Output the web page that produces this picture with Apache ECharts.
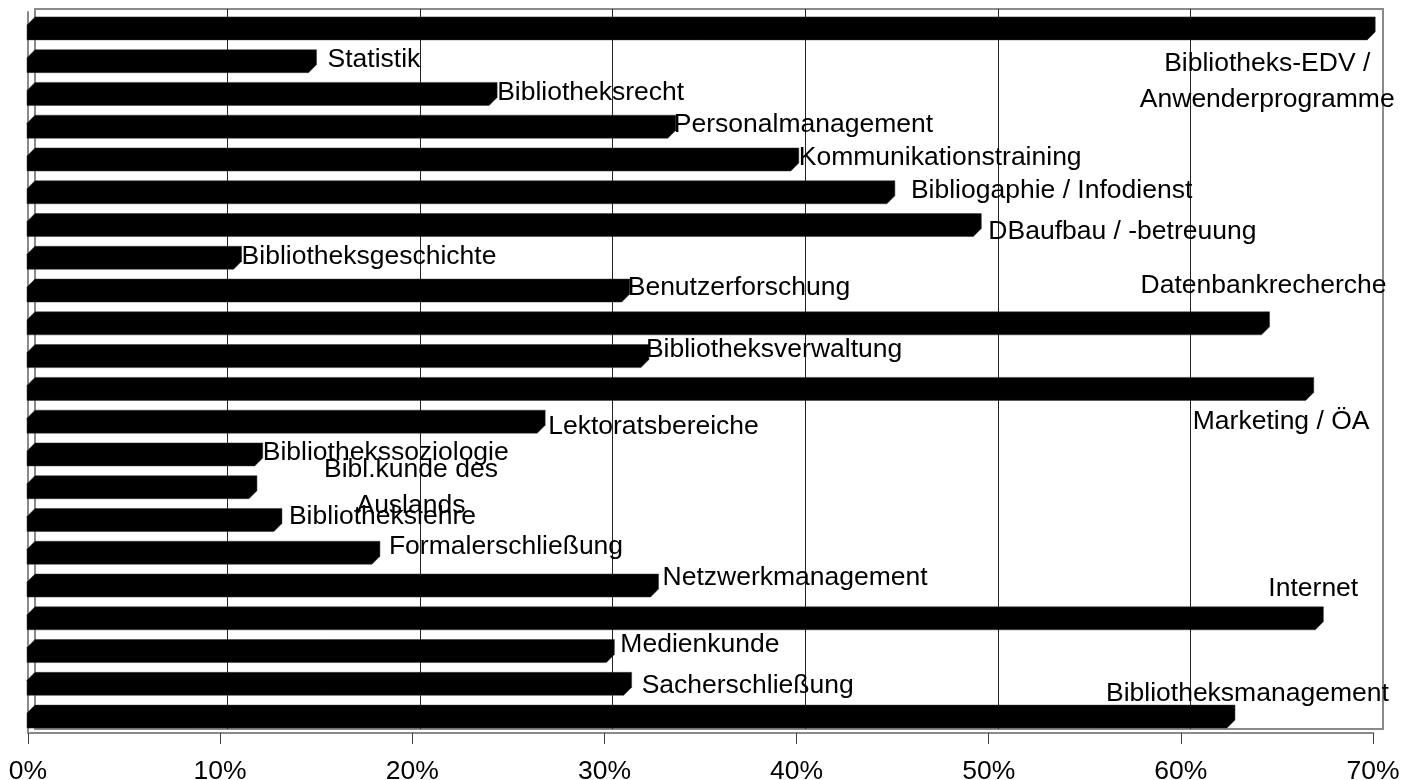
<!DOCTYPE html>
<html>
<head>
<meta charset="utf-8">
<script src="https://cdn.jsdelivr.net/npm/echarts@6/dist/echarts.min.js"></script>
<style>
html,body{margin:0;padding:0;background:#fff;}
#chart{width:1413px;height:780px;}
</style>
</head>
<body>
<div id="chart"></div>
<script>
// ---- data ----
const categories = [
  'Bibliotheks-EDV /\nAnwenderprogramme',
  'Statistik',
  'Bibliotheksrecht',
  'Personalmanagement',
  'Kommunikationstraining',
  'Bibliogaphie / Infodienst',
  'DBaufbau / -betreuung',
  'Bibliotheksgeschichte',
  'Benutzerforschung',
  'Datenbankrecherche',
  'Bibliotheksverwaltung',
  'Marketing / ÖA',
  'Lektoratsbereiche',
  'Bibliothekssoziologie',
  'Bibl.kunde des\nAuslands',
  'Bibliothekslehre',
  'Formalerschließung',
  'Netzwerkmanagement',
  'Internet',
  'Medienkunde',
  'Sacherschließung',
  'Bibliotheksmanagement'
];
const values = [69.7, 14.6, 24.0, 33.3, 39.7, 44.7, 49.2, 10.7, 30.9, 64.2, 31.9, 66.5,
                26.5, 11.8, 11.5, 12.8, 17.9, 32.4, 67.0, 30.1, 31.0, 62.4];
const tickValues = [0, 10, 20, 30, 40, 50, 60, 70];

// ---- label layout (offsets from bar tip, px) ----
const labelLayout = [
  [-108, 53, 'center'], [11, -1, 'left'], [0, -1, 'left'], [-2, -2, 'left'],
  [0, -1.5, 'left'], [16, -2, 'left'], [7, 7, 'left'], [0, -1, 'left'],
  [-2, -3, 'left'], [-129, -38, 'left'], [-3, -6, 'left'], [-121, 33, 'left'],
  [3, 5, 'left'], [0, -2, 'left'], [154, 0, 'center'], [7, -3, 'left'],
  [9, -6, 'left'], [4, -8, 'left'], [-55, -30, 'left'], [6, -6, 'left'],
  [10, 2, 'left'], [-129, -23, 'left']
];

const FONT = "'Liberation Sans', Arial, sans-serif";
const FS = 26.5;
const DEPTH = 8;
const HALF = 11.5;

function renderItem(params, api) {
  const i = api.value(0);
  const v = api.value(1);
  const p0 = api.coord([0, i]);
  const p1 = api.coord([v, i]);
  const top = p0[1] - HALF, bot = p0[1] + HALF;
  const x0 = p0[0] - 1, xf = p1[0];
  const pts = [[x0, top + DEPTH], [x0 + DEPTH, top], [xf + DEPTH, top],
               [xf + DEPTH, bot - DEPTH], [xf, bot], [x0, bot]];
  const lay = labelLayout[i];
  return {
    type: 'group',
    children: [
      { type: 'polygon', shape: { points: pts },
        style: { fill: '#000', stroke: '#333', lineWidth: 0.5 } },
      { type: 'text', x: xf + DEPTH + lay[0], y: p0[1] + lay[1], z2: 20,
        style: { text: categories[i], fill: '#000', fontSize: FS, fontFamily: FONT,
                 align: lay[2], verticalAlign: 'middle', lineHeight: 36 } }
    ]
  };
}

const chart = echarts.init(document.getElementById('chart'), null, { renderer: 'canvas' });
chart.setOption({
  backgroundColor: '#fff',
  animation: false,
  grid: [
    { left: 28, right: 40, top: 12, bottom: 47, outerBoundsMode: 'none', containLabel: false },
    { left: 35, right: 30, top: 9, bottom: 51, outerBoundsMode: 'none', containLabel: false,
      show: true, borderColor: '#8a8a8a', borderWidth: 2, backgroundColor: 'transparent' }
  ],
  xAxis: [
    { gridIndex: 0, type: 'value', min: tickValues[0], max: tickValues[tickValues.length - 1], interval: 10,
      axisLine: { show: true, lineStyle: { color: '#8a8a8a', width: 2 } },
      axisTick: { show: true, length: 11, lineStyle: { color: '#404040', width: 1 } },
      axisLabel: { formatter: '{value}%', fontSize: FS, fontFamily: FONT, color: '#000', margin: 25 },
      splitLine: { show: false } },
    { gridIndex: 1, type: 'value', min: tickValues[0], max: tickValues[tickValues.length - 1], interval: 10,
      axisLine: { show: false }, axisTick: { show: false }, axisLabel: { show: false },
      splitLine: { show: true, showMinLine: false, showMaxLine: false, lineStyle: { color: '#222', width: 1 } } }
  ],
  yAxis: [
    { gridIndex: 0, type: 'category', data: categories, inverse: true,
      axisLine: { show: true, onZero: false, lineStyle: { color: '#8a8a8a', width: 2 } },
      axisTick: { show: false }, axisLabel: { show: false }, splitLine: { show: false } },
    { gridIndex: 1, type: 'category', data: categories, inverse: true, show: false }
  ],
  series: [
    { type: 'custom', xAxisIndex: 0, yAxisIndex: 0, renderItem: renderItem,
      encode: { x: 1, y: 0 }, clip: false, z: 5,
      data: values.map((v, i) => [i, v]) }
  ]
});
</script>
</body>
</html>
